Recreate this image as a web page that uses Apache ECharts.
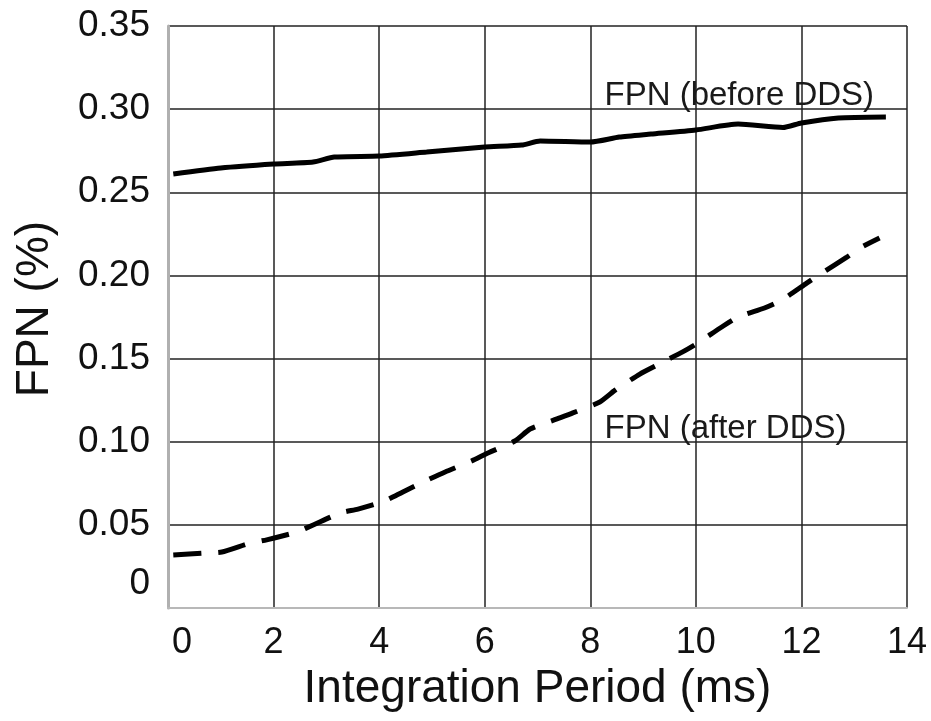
<!DOCTYPE html>
<html>
<head>
<meta charset="utf-8">
<script src="https://cdn.jsdelivr.net/npm/echarts@6/dist/echarts.min.js"></script>
<style>
html,body{margin:0;padding:0;background:#fff;}
#chart{width:931px;height:721px;}
</style>
</head>
<body>
<div id="chart"></div>
<script>
// ---- data ----
var beforeX = [0.1, 1.0, 2.0, 2.75, 3.15, 4.0, 4.9, 6.0, 6.7, 7.05, 8.0, 8.55, 9.15, 10.0, 10.8, 11.65, 12.0, 12.7, 13.6];
var beforeY = [0.261, 0.2646, 0.267, 0.2682, 0.2712, 0.2718, 0.2742, 0.2772, 0.2784, 0.2808, 0.2802, 0.2832, 0.285, 0.2875, 0.291, 0.289, 0.2917, 0.2947, 0.2953];
var afterX = [0.1, 0.67, 1.02, 1.55, 1.87, 2.44, 2.75, 3.26, 3.6, 4.1, 4.45, 4.92, 5.25, 5.75, 6.06, 6.57, 6.86, 7.37, 7.67, 8.18, 8.47, 8.94, 9.26, 9.75, 10.04, 10.49, 10.8, 11.3, 11.63, 12.1, 12.39, 12.86, 13.14, 13.48];
var afterY = [0.0319, 0.033, 0.0337, 0.039, 0.041, 0.0457, 0.0499, 0.0571, 0.0595, 0.0643, 0.0698, 0.077, 0.0818, 0.0884, 0.0932, 0.1004, 0.1076, 0.1137, 0.1173, 0.1239, 0.131, 0.1407, 0.146, 0.154, 0.1594, 0.169, 0.175, 0.1804, 0.1852, 0.1954, 0.2015, 0.211, 0.217, 0.2225];
var seriesNames = ['FPN (before DDS)', 'FPN (after DDS)'];
var labelAnchors = [[8.26, 0.308], [8.26, 0.108]]; // where the series captions sit (data space)
var xTicks = [0, 2, 4, 6, 8, 10, 12, 14];
var yTicks = ['0', '0.05', '0.10', '0.15', '0.20', '0.25', '0.30', '0.35'];
var xTitle = 'Integration Period (ms)';
var yTitle = 'FPN (%)';

function pairs(xs, ys) { return xs.map(function (x, i) { return [x, ys[i]]; }); }

var FONT = '"Liberation Sans", Arial, Helvetica, sans-serif';
var chart = echarts.init(document.getElementById('chart'), null, { renderer: 'canvas' });

function capLabel(name, anchor) {
  return {
    symbol: 'rect',
    symbolSize: 1,
    silent: true,
    itemStyle: { color: 'rgba(0,0,0,0)' },
    label: {
      show: true,
      position: 'right',
      distance: 0,
      formatter: name,
      fontFamily: FONT,
      fontSize: 33,
      color: '#1a1a1a'
    },
    data: [{ coord: anchor }]
  };
}

chart.setOption({
  backgroundColor: '#ffffff',
  animation: false,
  grid: { left: 168, right: 24, top: 26, bottom: 113, containLabel: false },
  xAxis: {
    type: 'value',
    min: 0, max: 14, interval: 2,
    name: xTitle,
    nameLocation: 'middle',
    nameGap: 58,
    nameTextStyle: { fontFamily: FONT, fontSize: 46, color: '#111' },
    axisLine: { show: true, lineStyle: { color: '#b8b8b8', width: 2 } },
    axisTick: { show: false },
    axisLabel: {
      margin: 17,
      fontFamily: FONT, fontSize: 36, color: '#111',
      formatter: function (v) { return v === 0 ? '{z|' + v + '}' : String(v); },
      rich: { z: { fontFamily: FONT, fontSize: 36, color: '#111', padding: [0, 0, 0, 28] } }
    },
    splitLine: { show: true, lineStyle: { color: '#222', width: 1.5 } }
  },
  yAxis: {
    type: 'value',
    min: 0, max: 0.35, interval: 0.05,
    name: yTitle,
    nameLocation: 'middle',
    nameRotate: 90,
    nameGap: 110,
    nameTextStyle: { fontFamily: '"Liberation Sans Narrow", ' + FONT, fontSize: 46, color: '#111', padding: [0, 0, 0, 16] },
    axisLine: { show: true, lineStyle: { color: '#b0b0b0', width: 3 } },
    axisTick: { show: false },
    axisLabel: {
      margin: 18,
      fontFamily: FONT, fontSize: 37, color: '#111',
      formatter: function (v) {
        var i = Math.round(v / 0.05);
        return i === 0 ? '{z|' + yTicks[0] + '}' : yTicks[i];
      },
      rich: { z: { fontFamily: FONT, fontSize: 37, color: '#111', padding: [0, 0, 48, 0] } }
    },
    splitLine: { show: true, lineStyle: { color: '#222', width: 1.5 } }
  },
  series: [
    {
      name: seriesNames[0],
      type: 'line',
      data: pairs(beforeX, beforeY),
      showSymbol: false,
      smooth: 0.2,
      lineStyle: { color: '#000', width: 5, type: 'solid' },
      markPoint: capLabel(seriesNames[0], labelAnchors[0]),
      z: 3
    },
    {
      name: seriesNames[1],
      type: 'line',
      data: pairs(afterX, afterY),
      showSymbol: false,
      smooth: 0.2,
      lineStyle: { color: '#000', width: 5, type: [28, 17], cap: 'butt' },
      markPoint: capLabel(seriesNames[1], labelAnchors[1]),
      z: 3
    }
  ]
});
</script>
</body>
</html>
